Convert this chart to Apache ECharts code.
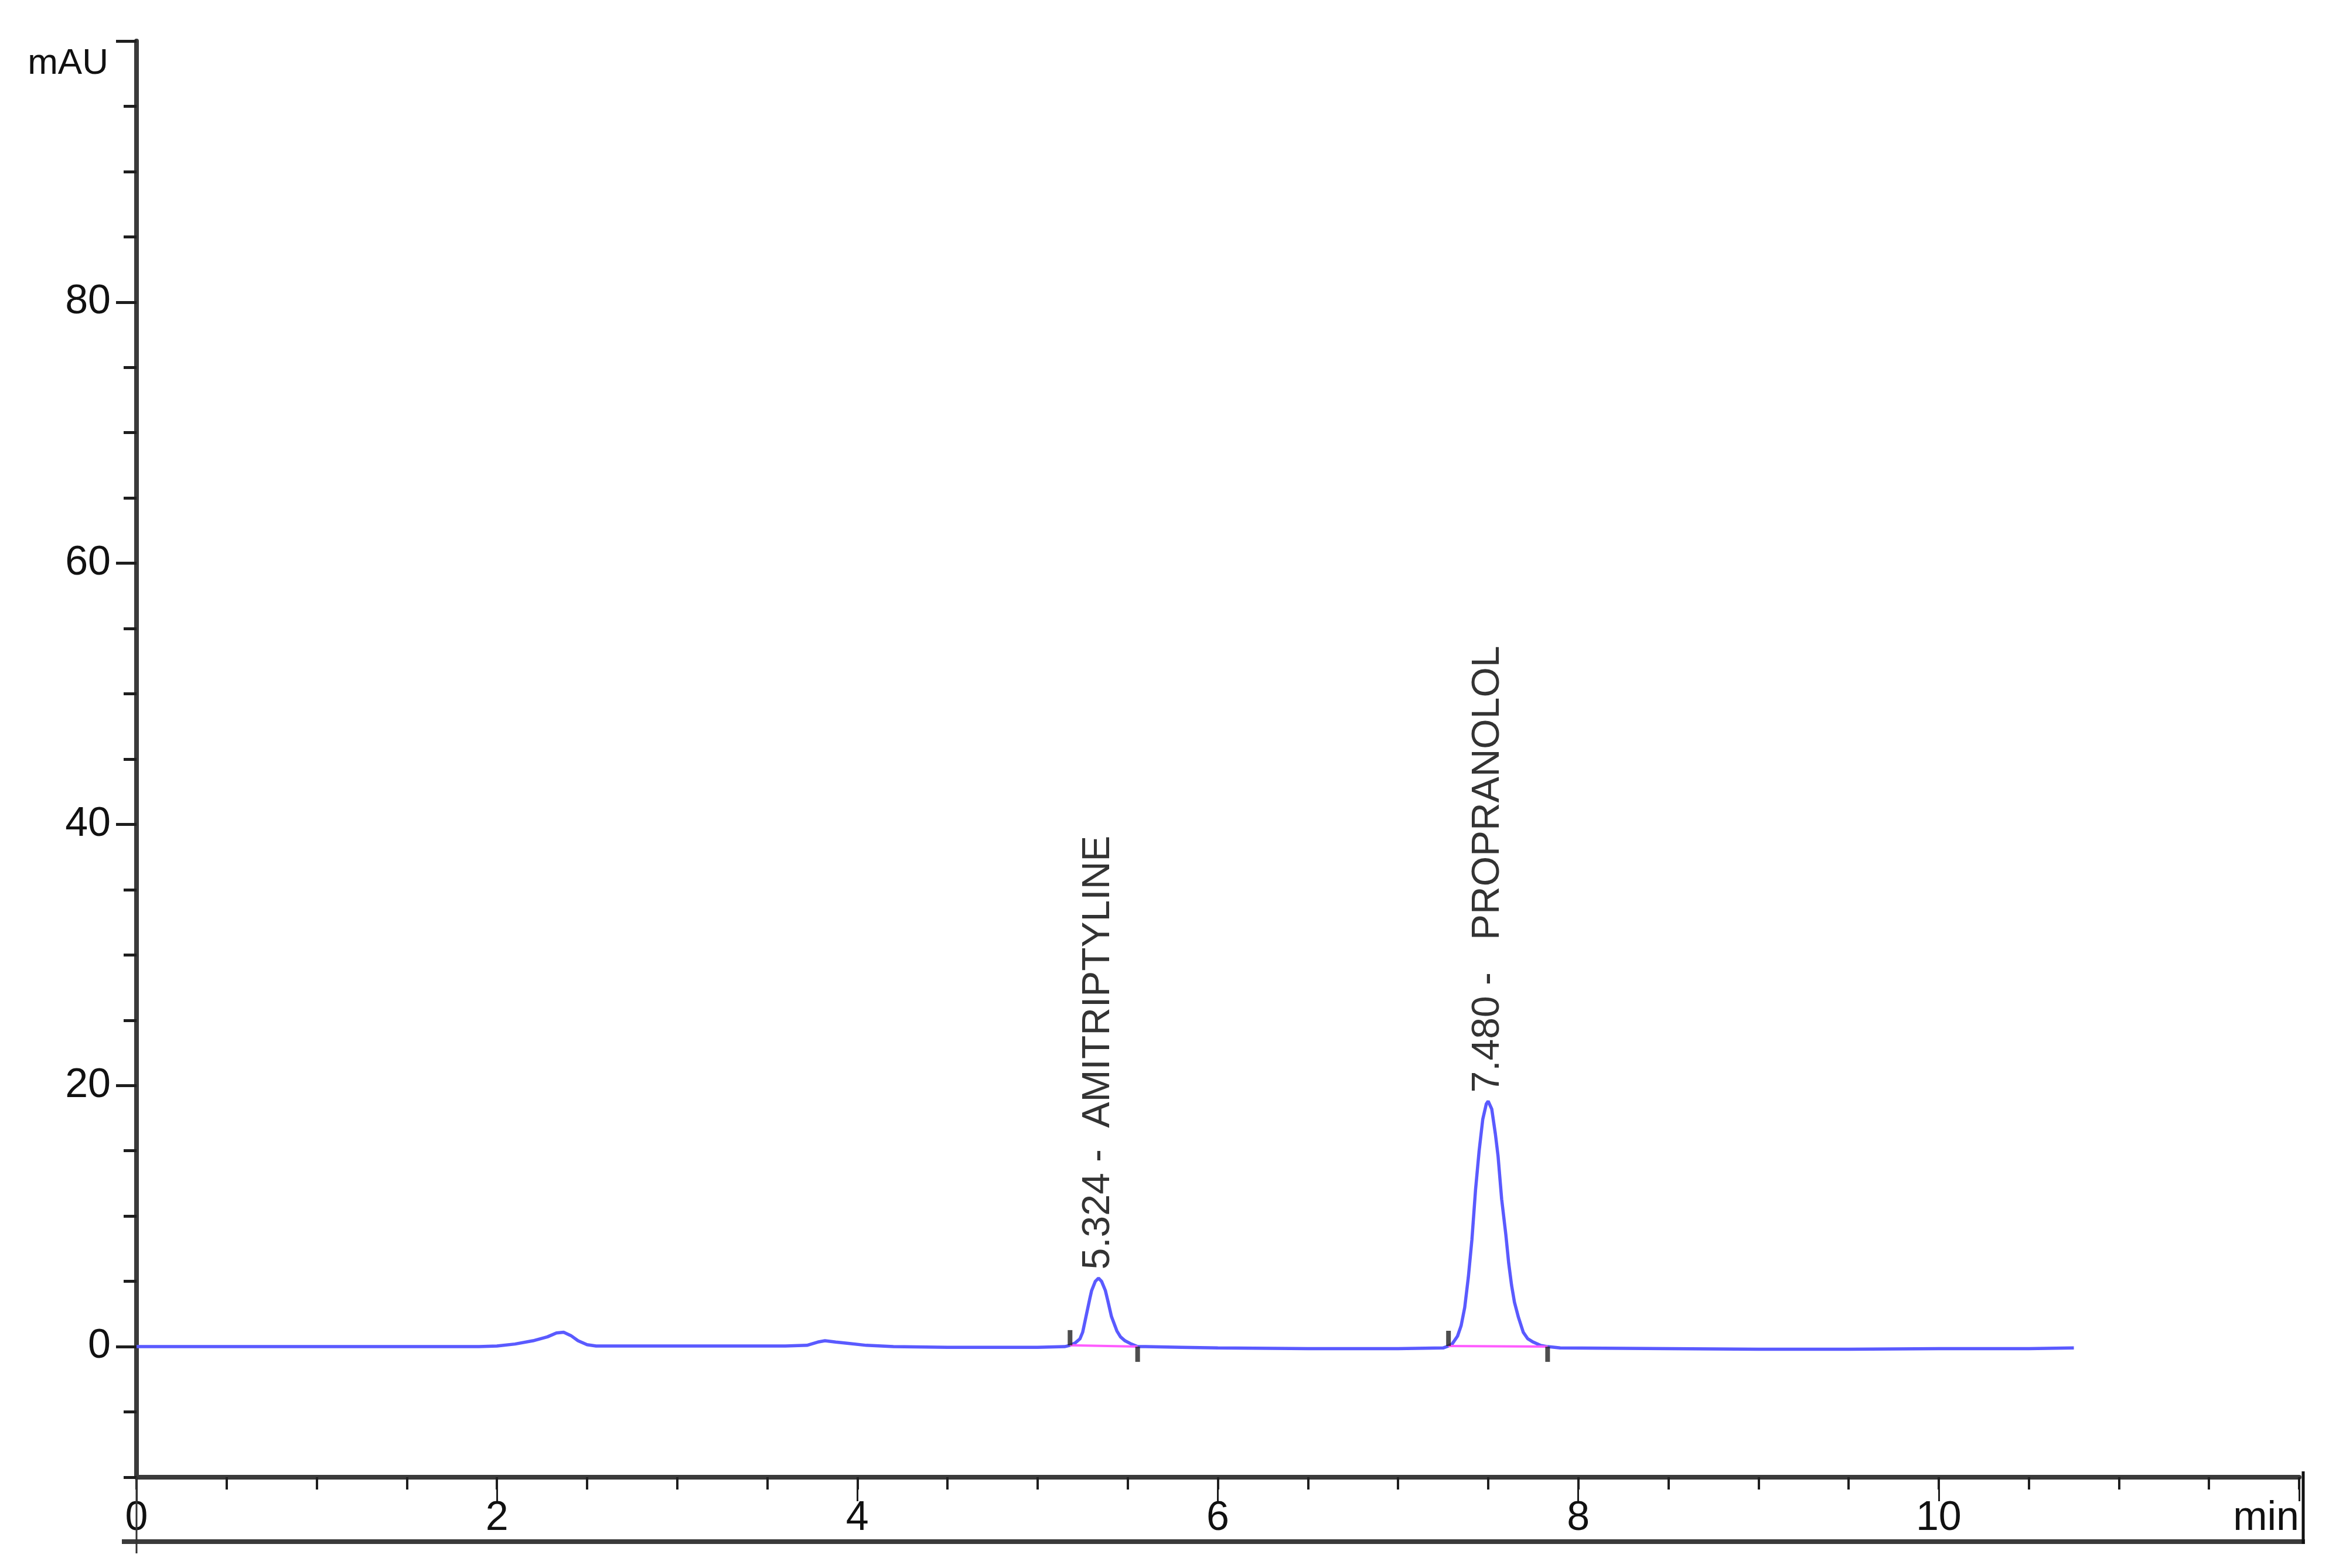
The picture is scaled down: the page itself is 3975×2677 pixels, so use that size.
<!DOCTYPE html>
<html><head><meta charset="utf-8">
<script src="https://cdn.jsdelivr.net/npm/echarts@6/dist/echarts.min.js"></script>
<style>html,body{margin:0;padding:0;background:#fff;}#c{width:3975px;height:2677px;}</style>
</head><body><div id="c"></div>
<script>
// ---- data ----
const traceTime = [0.00,0.50,1.00,1.50,1.90,2.00,2.10,2.20,2.28,2.33,2.37,2.41,2.45,2.50,2.55,2.70,3.00,3.30,3.60,3.72,3.78,3.82,3.88,3.95,4.05,4.20,4.50,4.80,5.00,5.15,
  5.18,5.21,5.235,5.25,5.27,5.29,5.30,5.32,5.338,5.355,5.376,5.39,5.41,5.44,5.46,5.485,5.52,5.555,
  5.60,5.80,6.00,6.50,7.00,7.25,
  7.28,7.30,7.33,7.35,7.37,7.39,7.41,7.43,7.45,7.47,7.49,7.50,7.52,7.54,7.555,7.575,7.598,7.614,7.63,7.646,7.668,7.695,7.72,7.75,7.79,7.83,
  7.90,8.50,9.00,9.50,10.00,10.50,10.75];
const traceSignal = [0.00,0.00,0.00,0.00,0.00,0.05,0.20,0.45,0.75,1.05,1.10,0.85,0.45,0.15,0.05,0.05,0.05,0.05,0.05,0.10,0.35,0.45,0.35,0.25,0.10,0.00,-0.05,-0.05,-0.05,0.00,
  0.10,0.30,0.60,1.10,2.40,3.70,4.30,5.00,5.25,5.00,4.30,3.50,2.30,1.20,0.75,0.45,0.20,0.00,
  0.00,-0.05,-0.10,-0.15,-0.15,-0.10,
  0.05,0.20,0.80,1.60,3.00,5.30,8.20,12.00,15.00,17.40,18.60,18.80,18.20,16.30,14.60,11.30,8.60,6.40,4.70,3.40,2.25,1.10,0.60,0.35,0.10,0.00,
  -0.10,-0.15,-0.20,-0.20,-0.15,-0.15,-0.10];

const peakRT = [5.324, 7.480];
const peakName = ['AMITRIPTYLINE', 'PROPRANOLOL'];
const peakSep = [' -  ', ' -   '];
const peakApexTime = [5.338, 7.500];
const peakApexSignal = [5.25, 18.8];
const intStartTime = [5.18, 7.28];
const intStartSignal = [0.10, 0.05];
const intEndTime = [5.555, 7.83];
const intEndSignal = [0.00, 0.00];

const xLabelValues = [0, 2, 4, 6, 8, 10, 12];
const xUnit = 'min';
const xMajorTicks = [0, 2, 4, 6, 8, 10, 12];
const yLabelValues = [0, 20, 40, 60, 80];
const yMajorTicks = [0, 20, 40, 60, 80, 100];

// ---- layout ----
const G = {left: 233, top: 70, right: 51, bottom: 155};
const W = 3975, H = 2677;
const sans = "'Liberation Sans',Arial,sans-serif";
const axisColor = '#3a3a3a';
const tickColor = '#1e1e1e';
const textColor = '#111111';

const chart = echarts.init(document.getElementById('c'), null, {renderer: 'canvas'});

const trace = traceTime.map((t, i) => [t, traceSignal[i]]);
const segSeries = intStartTime.map((t, i) => ({
  type: 'line', xAxisIndex: 0, yAxisIndex: 0, silent: true, showSymbol: false, z: 4,
  data: [[t, intStartSignal[i]], [intEndTime[i], intEndSignal[i]]],
  lineStyle: {color: '#ff5cff', width: 4}
}));

const option = {
  backgroundColor: '#ffffff',
  animation: false,
  grid: {left: G.left, top: G.top, right: G.right, bottom: G.bottom, containLabel: false},
  xAxis: [
    {type: 'value', min: 0, max: 12, interval: 0.5,
     axisLine: {show: true, onZero: false, lineStyle: {color: axisColor, width: 8}},
     axisTick: {show: true, length: 21, lineStyle: {color: tickColor, width: 4}},
     axisLabel: {customValues: xLabelValues, margin: 36, fontSize: 70, fontFamily: sans, color: textColor,
                 alignMaxLabel: 'right', showMaxLabel: true,
                 formatter: v => (v === 12 ? xUnit : String(v))},
     splitLine: {show: false}
    },
    {type: 'value', min: 0, max: 12, interval: 0.5, position: 'bottom',
     axisLine: {show: false, onZero: false},
     axisTick: {show: true, customValues: xMajorTicks, length: 41, lineStyle: {color: tickColor, width: 3}},
     axisLabel: {show: false}, splitLine: {show: false}
    }
  ],
  yAxis: [
    {type: 'value', min: -10, max: 100, interval: 5,
     axisLine: {show: true, onZero: false, lineStyle: {color: axisColor, width: 8}},
     axisTick: {show: true, length: 22, lineStyle: {color: tickColor, width: 5}},
     axisLabel: {customValues: yLabelValues, margin: 44, fontSize: 70, fontFamily: sans, color: textColor},
     splitLine: {show: false},
     name: 'mAU', nameLocation: 'end', nameGap: -39,
     nameTextStyle: {align: 'right', verticalAlign: 'middle', padding: [0, 48, 0, 0], fontSize: 62, fontFamily: sans, color: textColor}
    },
    {type: 'value', min: -10, max: 100, interval: 5, position: 'left',
     axisLine: {show: false, onZero: false},
     axisTick: {show: true, customValues: yMajorTicks, length: 35, lineStyle: {color: tickColor, width: 5}},
     axisLabel: {show: false}, splitLine: {show: false}
    }
  ],
  series: [
    {type: 'line', name: 'trace', xAxisIndex: 0, yAxisIndex: 0, data: trace, showSymbol: false, z: 3,
     lineStyle: {color: '#5a5aff', width: 5.5}, silent: true},
    ...segSeries,
    {type: 'scatter', xAxisIndex: 0, yAxisIndex: 0, z: 5, silent: true,
     symbol: 'rect', symbolSize: [8, 26], symbolOffset: [0, '-50%'],
     itemStyle: {color: '#222'},
     data: intStartTime.map((t, i) => [t, intStartSignal[i]])},
    {type: 'scatter', xAxisIndex: 0, yAxisIndex: 0, z: 5, silent: true,
     symbol: 'rect', symbolSize: [8, 26], symbolOffset: [0, '50%'],
     itemStyle: {color: '#222'},
     data: intEndTime.map((t, i) => [t, intEndSignal[i]])},
    {type: 'scatter', xAxisIndex: 0, yAxisIndex: 0, z: 6, silent: true,
     symbolSize: 1, itemStyle: {color: 'rgba(0,0,0,0)'},
     data: peakApexTime.map((t, i) => ({value: [t, peakApexSignal[i]], name: peakRT[i].toFixed(3) + peakSep[i] + peakName[i]})),
     label: {show: true, position: 'top', distance: 14, rotate: 90, align: 'left', verticalAlign: 'middle',
             fontSize: 66, fontFamily: sans, color: '#000000', formatter: p => p.name}}
  ],
  graphic: [
    {type: 'line', silent: true, z: 10,
     shape: {x1: G.left - 25, y1: H - G.bottom + 110, x2: W - G.right + 10, y2: H - G.bottom + 110},
     style: {stroke: axisColor, lineWidth: 8}},
    {type: 'line', silent: true, z: 10,
     shape: {x1: W - G.right + 7, y1: H - G.bottom - 10, x2: W - G.right + 7, y2: H - G.bottom + 114},
     style: {stroke: '#111', lineWidth: 5}},
    {type: 'line', silent: true, z: 10,
     shape: {x1: G.left, y1: H - G.bottom, x2: G.left, y2: H - G.bottom + 130},
     style: {stroke: '#333', lineWidth: 3}}
  ]
};
chart.setOption(option);
</script>
</body></html>
